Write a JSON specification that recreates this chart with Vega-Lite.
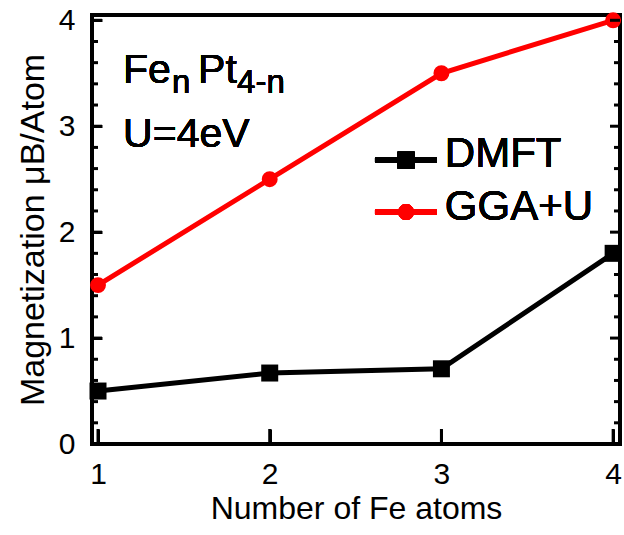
{
  "$schema": "https://vega.github.io/schema/vega-lite/v6.json",
  "width": 528,
  "height": 429,
  "autosize": {"type": "none"},
  "padding": {"left": 92, "top": 15, "right": 4, "bottom": 91},
  "config": {
    "view": {"stroke": "black", "strokeWidth": 4},
    "font": "Liberation Sans",
    "axis": {"grid": false, "domain": false, "ticks": true, "zindex": 2, "tickColor": "#000000", "tickOpacity": 1, "tickWidth": 3, "labelColor": "black", "titleColor": "black", "labelFont": "Liberation Sans", "titleFont": "Liberation Sans", "titleFontWeight": "normal"}
  },
  "datasets": {
    "series": [
      {"n": 1, "m": 0.5, "method": "DMFT"},
      {"n": 2, "m": 0.67, "method": "DMFT"},
      {"n": 3, "m": 0.71, "method": "DMFT"},
      {"n": 4, "m": 1.8, "method": "DMFT"},
      {"n": 1, "m": 1.5, "method": "GGA+U"},
      {"n": 2, "m": 2.5, "method": "GGA+U"},
      {"n": 3, "m": 3.5, "method": "GGA+U"},
      {"n": 4, "m": 4.0, "method": "GGA+U"}
    ],
    "ymajor": [{"v": 0}, {"v": 1}, {"v": 2}, {"v": 3}, {"v": 4}],
    "yminor": [{"v": 0.2}, {"v": 0.4}, {"v": 0.6}, {"v": 0.8}, {"v": 1.2}, {"v": 1.4}, {"v": 1.6}, {"v": 1.8}, {"v": 2.2}, {"v": 2.4}, {"v": 2.6}, {"v": 2.8}, {"v": 3.2}, {"v": 3.4}, {"v": 3.6}, {"v": 3.8}],
    "xmajor": [{"v": 1}, {"v": 2}, {"v": 3}, {"v": 4}]
  },
  "data": {"name": "series"},
  "resolve": {"axis": {"y": "independent", "x": "independent"}},
  "layer": [
    {
      "mark": {"type": "line", "strokeWidth": 5},
      "encoding": {
        "x": {"field": "n", "type": "quantitative", "scale": {"domain": [0.965, 4.04], "nice": false, "zero": false},
          "axis": {"orient": "bottom", "values": [1, 2, 3, 4], "format": "d", "offset": -15, "tickSize": 15, "labelPadding": 15, "labelFontSize": 30, "title": "Number of Fe atoms", "titleFontSize": 32, "titlePadding": 4}},
        "y": {"field": "m", "type": "quantitative", "scale": {"domain": [0, 4.05], "nice": false},
          "axis": {"orient": "left", "values": [0, 1, 2, 3, 4], "format": "d", "offset": -10, "tickSize": 10,
            "labelPadding": 17, "labelFontSize": 30, "title": "Magnetization μB/Atom", "titleFontSize": 34, "titlePadding": 8}},
        "color": {"field": "method", "type": "nominal", "scale": {"domain": ["DMFT", "GGA+U"], "range": ["black", "red"]}, "legend": null}
      }
    },
    {
      "mark": {"type": "point", "filled": true, "opacity": 1},
      "encoding": {
        "x": {"field": "n", "type": "quantitative", "axis": null},
        "y": {"field": "m", "type": "quantitative", "axis": null},
        "color": {"field": "method", "type": "nominal", "legend": null},
        "shape": {"field": "method", "type": "nominal", "scale": {"domain": ["DMFT", "GGA+U"], "range": ["square", "circle"]}, "legend": null},
        "size": {"field": "method", "type": "nominal", "scale": {"domain": ["DMFT", "GGA+U"], "range": [289, 254]}, "legend": null}
      }
    },
    {
      "data": {"name": "ymajor"},
      "mark": {"type": "tick", "orient": "horizontal", "size": 20, "thickness": 3, "clip": true, "color": "black", "opacity": 1},
      "encoding": {"x": {"datum": 0.965, "type": "quantitative", "axis": null}, "y": {"field": "v", "type": "quantitative", "axis": null}}
    },
    {
      "data": {"name": "ymajor"},
      "mark": {"type": "tick", "orient": "horizontal", "size": 20, "thickness": 3, "clip": true, "color": "black", "opacity": 1},
      "encoding": {"x": {"datum": 4.04, "type": "quantitative", "axis": null}, "y": {"field": "v", "type": "quantitative", "axis": null}}
    },
    {
      "data": {"name": "yminor"},
      "mark": {"type": "tick", "orient": "horizontal", "size": 12, "thickness": 3, "clip": true, "color": "black", "opacity": 1},
      "encoding": {"x": {"datum": 0.965, "type": "quantitative", "axis": null}, "y": {"field": "v", "type": "quantitative", "axis": null}}
    },
    {
      "data": {"name": "yminor"},
      "mark": {"type": "tick", "orient": "horizontal", "size": 12, "thickness": 3, "clip": true, "color": "black", "opacity": 1},
      "encoding": {"x": {"datum": 4.04, "type": "quantitative", "axis": null}, "y": {"field": "v", "type": "quantitative", "axis": null}}
    },
    {
      "data": {"name": "xmajor"},
      "mark": {"type": "tick", "orient": "vertical", "size": 30, "thickness": 3, "clip": true, "color": "black", "opacity": 1},
      "encoding": {"x": {"field": "v", "type": "quantitative", "axis": null}, "y": {"datum": 0, "type": "quantitative", "axis": null}}
    },
    {
      "mark": {"type": "text", "text": "Fe", "fontSize": 41, "align": "left", "baseline": "alphabetic"},
      "encoding": {"x": {"datum": 1.146, "type": "quantitative", "axis": null}, "y": {"datum": 3.406, "type": "quantitative", "axis": null}}
    },
    {
      "mark": {"type": "text", "text": "n", "fontSize": 33, "align": "left", "baseline": "alphabetic", "dx": 49, "dy": 10},
      "encoding": {"x": {"datum": 1.146, "type": "quantitative", "axis": null}, "y": {"datum": 3.406, "type": "quantitative", "axis": null}}
    },
    {
      "mark": {"type": "text", "text": "Pt", "fontSize": 41, "align": "left", "baseline": "alphabetic", "dx": 75},
      "encoding": {"x": {"datum": 1.146, "type": "quantitative", "axis": null}, "y": {"datum": 3.406, "type": "quantitative", "axis": null}}
    },
    {
      "mark": {"type": "text", "text": "4-n", "fontSize": 33, "align": "left", "baseline": "alphabetic", "dx": 114, "dy": 10},
      "encoding": {"x": {"datum": 1.146, "type": "quantitative", "axis": null}, "y": {"datum": 3.406, "type": "quantitative", "axis": null}}
    },
    {
      "mark": {"type": "text", "text": "U=4eV", "fontSize": 41, "align": "left", "baseline": "alphabetic"},
      "encoding": {"x": {"datum": 1.146, "type": "quantitative", "axis": null}, "y": {"datum": 2.8, "type": "quantitative", "axis": null}}
    },
    {
      "mark": {"type": "rule", "strokeWidth": 5, "color": "black"},
      "encoding": {"x": {"datum": 2.613, "type": "quantitative", "axis": null}, "x2": {"datum": 2.974}, "y": {"datum": 2.68, "type": "quantitative", "axis": null}}
    },
    {
      "mark": {"type": "point", "shape": "square", "filled": true, "opacity": 1, "size": 289, "color": "black"},
      "encoding": {"x": {"datum": 2.794, "type": "quantitative", "axis": null}, "y": {"datum": 2.68, "type": "quantitative", "axis": null}}
    },
    {
      "mark": {"type": "text", "text": "DMFT", "fontSize": 42, "align": "left", "baseline": "alphabetic"},
      "encoding": {"x": {"datum": 3.02, "type": "quantitative", "axis": null}, "y": {"datum": 2.613, "type": "quantitative", "axis": null}}
    },
    {
      "mark": {"type": "rule", "strokeWidth": 5, "color": "red"},
      "encoding": {"x": {"datum": 2.613, "type": "quantitative", "axis": null}, "x2": {"datum": 2.974}, "y": {"datum": 2.19, "type": "quantitative", "axis": null}}
    },
    {
      "mark": {"type": "point", "shape": "circle", "filled": true, "opacity": 1, "size": 254, "color": "red"},
      "encoding": {"x": {"datum": 2.794, "type": "quantitative", "axis": null}, "y": {"datum": 2.19, "type": "quantitative", "axis": null}}
    },
    {
      "mark": {"type": "text", "text": "GGA+U", "fontSize": 42, "align": "left", "baseline": "alphabetic"},
      "encoding": {"x": {"datum": 3.02, "type": "quantitative", "axis": null}, "y": {"datum": 2.113, "type": "quantitative", "axis": null}}
    }
  ]
}
